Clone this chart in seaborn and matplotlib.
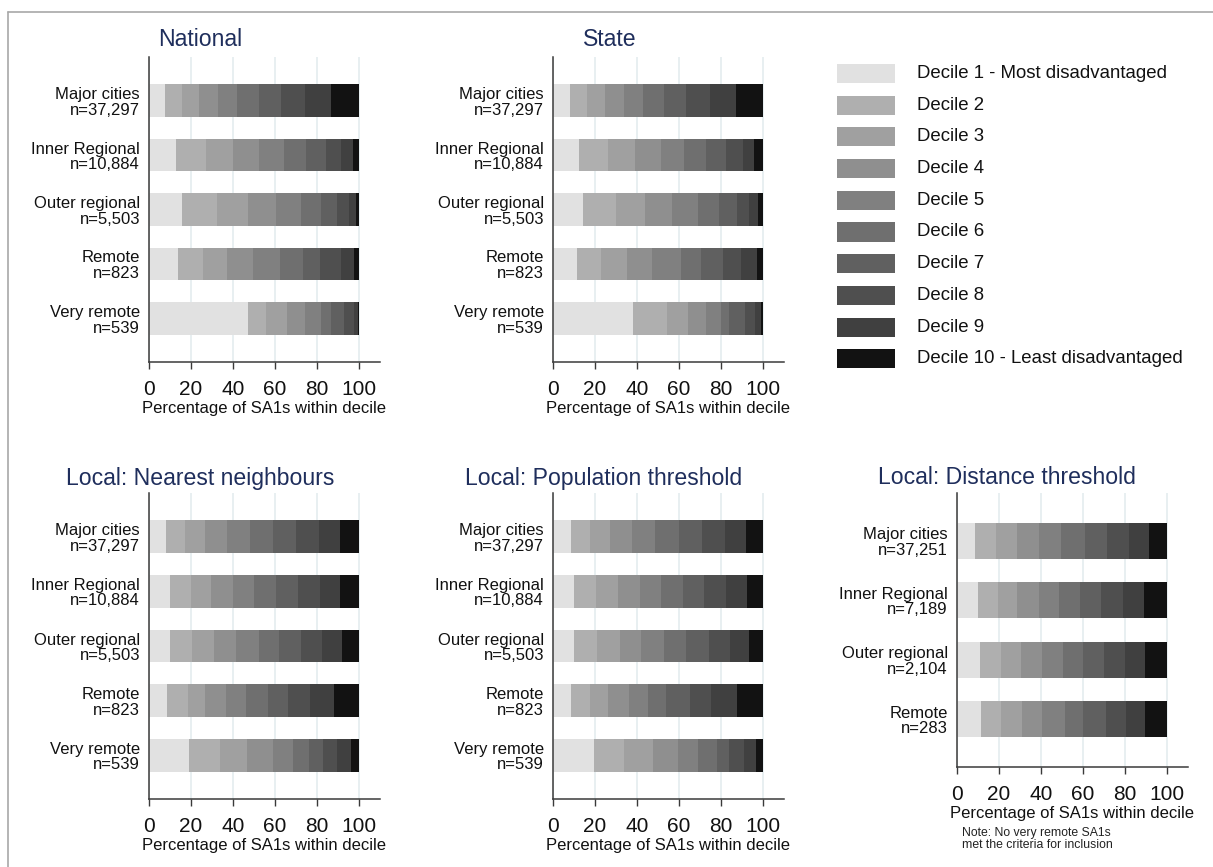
import numpy as np
import pandas as pd
import matplotlib
matplotlib.use("Agg")
import matplotlib.pyplot as plt
import seaborn as sns
from matplotlib.patches import Rectangle
from matplotlib.lines import Line2D

W, H = 1213, 867

# ---------------- data ----------------
decile_labels = ["Decile 1 - Most disadvantaged", "Decile 2", "Decile 3", "Decile 4",
                 "Decile 5", "Decile 6", "Decile 7", "Decile 8", "Decile 9",
                 "Decile 10 - Least disadvantaged"]
decile_colors = ["#e1e1e1", "#afafaf", "#a0a0a0", "#8f8f8f", "#808080",
                 "#6f6f6f", "#606060", "#4f4f4f", "#404040", "#121212"]

cats5 = ["Major cities\nn=37,297", "Inner Regional\nn=10,884", "Outer regional\nn=5,503",
         "Remote\nn=823", "Very remote\nn=539"]
cats_dist = ["Major cities\nn=37,251", "Inner Regional\nn=7,189", "Outer regional\nn=2,104",
             "Remote\nn=283"]

national = [
    [7.8, 7.8, 8.2, 9.1, 9.0, 10.3, 10.7, 11.2, 12.6, 13.3],
    [13.0, 14.1, 13.1, 12.3, 11.8, 10.3, 9.5, 7.5, 5.4, 3.0],
    [15.6, 16.8, 14.6, 13.5, 12.0, 9.4, 7.6, 5.7, 3.4, 1.4],
    [14.0, 11.9, 11.4, 12.2, 12.9, 11.1, 7.9, 10.0, 6.4, 2.2],
    [47.1, 8.6, 10.0, 8.6, 7.6, 4.8, 6.2, 4.7, 2.1, 0.3],
]
state = [
    [8.1, 7.9, 8.8, 8.9, 9.3, 9.9, 10.3, 11.7, 12.1, 13.0],
    [12.4, 13.6, 13.0, 12.3, 11.1, 10.5, 9.6, 7.8, 5.6, 4.1],
    [14.1, 15.9, 13.7, 13.1, 12.1, 10.1, 8.5, 6.0, 4.3, 2.2],
    [11.6, 11.3, 12.5, 11.6, 13.8, 9.8, 10.4, 8.7, 7.3, 3.0],
    [37.9, 16.5, 9.7, 8.6, 7.5, 3.8, 7.3, 5.0, 2.9, 0.8],
]
nearest = [
    [8.3, 8.8, 9.6, 10.4, 11.0, 10.9, 11.1, 11.0, 10.0, 8.9],
    [9.8, 10.2, 9.5, 10.3, 10.4, 10.3, 10.3, 10.6, 9.7, 8.9],
    [9.8, 10.7, 10.5, 10.4, 10.8, 9.9, 10.4, 9.7, 9.9, 7.9],
    [8.4, 10.0, 8.1, 10.2, 9.6, 10.4, 9.3, 10.8, 11.3, 11.9],
    [18.9, 14.8, 12.8, 12.4, 9.7, 7.6, 6.7, 6.6, 6.7, 3.8],
]
population = [
    [8.4, 9.0, 9.7, 10.5, 11.1, 11.1, 11.0, 11.1, 10.0, 8.1],
    [10.2, 10.3, 10.3, 10.5, 10.0, 10.4, 10.4, 10.1, 10.0, 7.8],
    [10.0, 10.8, 10.9, 10.4, 10.6, 10.8, 10.6, 10.0, 9.1, 6.8],
    [8.7, 8.8, 8.5, 10.2, 9.2, 8.3, 11.4, 10.3, 12.1, 12.5],
    [19.5, 14.3, 13.7, 12.2, 9.2, 9.4, 5.4, 7.1, 5.7, 3.5],
]
distance = [
    [8.7, 9.7, 10.0, 10.5, 10.8, 11.1, 10.8, 10.3, 9.4, 8.7],
    [10.0, 9.4, 9.3, 10.2, 9.8, 9.7, 10.0, 10.5, 10.3, 10.8],
    [10.8, 10.0, 9.8, 9.9, 9.8, 9.5, 10.2, 9.8, 9.9, 10.3],
    [11.6, 9.5, 9.9, 9.6, 10.7, 8.7, 10.8, 9.8, 8.9, 10.5],
]

titles = ["National", "State", "Local: Nearest neighbours",
          "Local: Population threshold", "Local: Distance threshold"]
x_ticks = [0, 20, 40, 60, 80, 100]
xlabel = "Percentage of SA1s within decile"
note = "Note: No very remote SA1s\nmet the criteria for inclusion"

# ---------------- style ----------------
sns.set_theme(style="white")
plt.rcParams['font.family'] = ['Liberation Sans', 'DejaVu Sans']
TITLE_COLOR = "#1f2e5c"

fig = plt.figure(figsize=(W / 100, H / 100), dpi=100)
fig.patch.set_facecolor("white")


def add_ax(l, t, r, b):
    return fig.add_axes([l / W, 1 - b / H, (r - l) / W, (b - t) / H])


def draw(ax, cats, data):
    arr = np.array(data)
    cum = arr.cumsum(axis=1)
    n = len(cats)
    for k in range(9, -1, -1):
        df = pd.DataFrame({"cat": cats, "val": cum[:, k]})
        sns.barplot(data=df, x="val", y="cat", orient="h", color=decile_colors[k],
                    saturation=1, width=0.6, ax=ax, linewidth=0, order=cats)
    ax.set_xlim(0, 110)
    ax.set_ylim(n - 1 + 0.8, -0.8)
    ax.set_xticks(x_ticks)
    ax.set_xticklabels([str(t) for t in x_ticks])
    ax.grid(axis="x", color="#e2ebee", lw=1.1)
    ax.grid(axis="y", visible=False)
    ax.set_axisbelow(True)
    for s in ["top", "right"]:
        ax.spines[s].set_visible(False)
    for s in ["left", "bottom"]:
        ax.spines[s].set_color("#3a3a3a")
        ax.spines[s].set_linewidth(1.1)
    ax.tick_params(axis="x", bottom=True, length=5, width=1, color="#3a3a3a",
                   labelsize=15, pad=8, labelcolor="#111111")
    ax.tick_params(axis="y", left=False, length=0, labelsize=12, pad=6.5,
                   labelcolor="#111111")
    for t in ax.get_yticklabels():
        t.set_linespacing(1.05)
    ax.set_xlabel(xlabel, fontsize=12, labelpad=1.5, color="#111111")
    ax.set_ylabel("")
    ax.set_facecolor("white")


panels = [
    ((149, 57, 380, 362), cats5, national, (200, 40)),
    ((553, 57, 784, 362), cats5, state, (610, 40)),
    ((149, 493, 380, 799), cats5, nearest, (200, 478)),
    ((553, 493, 784, 799), cats5, population, (604, 478)),
    ((957, 493, 1188, 767), cats_dist, distance, (1007, 477)),
]
for (box, cats, data, tpos), title in zip(panels, titles):
    ax = add_ax(*box)
    draw(ax, cats, data)
    fig.text(tpos[0] / W, 1 - tpos[1] / H, title, ha="center", va="center",
             fontsize=16.6, color=TITLE_COLOR)

# legend (manual)
for i, (lab, col) in enumerate(zip(decile_labels, decile_colors)):
    yc = 73.5 + 31.7 * i
    fig.patches.append(Rectangle((837 / W, 1 - (yc + 9.5) / H), 58 / W, 19 / H,
                                 transform=fig.transFigure, facecolor=col,
                                 edgecolor="none"))
    fig.text(917 / W, 1 - yc / H, lab, ha="left", va="center", fontsize=13.4,
             color="#111111")

# note
fig.text(962 / W, 1 - 839 / H, note, ha="left", va="center", fontsize=8.8,
         color="#222222", linespacing=1.05)

# frame lines (left and top)
fig.add_artist(Line2D([8 / W, 8 / W], [0, 1 - 12 / H], transform=fig.transFigure,
                      color="#a8a8a8", lw=1.2))
fig.add_artist(Line2D([8 / W, 1], [1 - 12 / H, 1 - 12 / H], transform=fig.transFigure,
                      color="#a8a8a8", lw=1.2))

fig.savefig("out.png", dpi=100, facecolor="white")
